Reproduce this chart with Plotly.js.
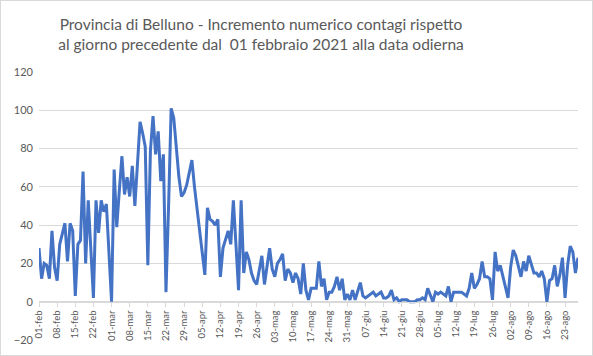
<!DOCTYPE html>
<html>
<head>
<meta charset="utf-8">
<script src="https://cdn.plot.ly/plotly-3.0.1.min.js"></script>
<style>
  html, body { margin: 0; padding: 0; background: #ffffff; }
  #wrap { position: relative; width: 593px; height: 356px; }
  #chart { width: 593px; height: 356px; }
  #frame { position: absolute; left: 0; top: 0; width: 591px; height: 354px; border: 1px solid #d9d9d9; pointer-events: none; }
</style>
</head>
<body>
<div id="wrap"><div id="chart"></div><div id="frame"></div></div>
<script>
// Daily increment of cases, Provincia di Belluno, 01 Feb 2021 - 28 Aug 2021
const startDate = '2021-02-01';
const febValues = [28,12,20,19,12,37,18,11,30,35,41,21,41,37,3,30,32,68,20,53,28,2,53,36,53,47,51,25];
const marValues = [0,69,39,58,76,56,65,55,71,50,72,94,88,81,19,79,97,77,89,63,77,5,50,101,96,79,65,55,57,61,67];
const aprValues = [74,60,48,37,26,14,49,43,42,40,43,13,28,33,37,30,53,30,6,53,15,26,22,15,11,9,17,24,9,18];
const mayValues = [28,17,13,20,22,25,11,17,15,10,15,12,4,20,6,1,7,7,7,21,8,12,1,5,5,8,13,6,12,1,4];
const junValues = [1,6,1,5,10,3,2,3,4,5,3,4,5,2,2,3,6,1,2,0,1,1,1,0,0,0,1,1,2,1];
const julValues = [7,3,0,5,4,5,4,3,8,0,5,5,5,5,4,3,7,15,7,9,12,21,13,13,12,1,26,16,19,13,7];
const augValues = [2,18,27,24,18,13,21,16,24,19,15,15,13,16,12,0,11,12,19,8,14,23,2,19,29,26,15,23];

const tickLabels = ['01-feb','08-feb','15-feb','22-feb','01-mar','08-mar','15-mar','22-mar','29-mar',
  '05-apr','12-apr','19-apr','26-apr','03-mag','10-mag','17-mag','24-mag','31-mag','07-giu','14-giu',
  '21-giu','28-giu','05-lug','12-lug','19-lug','26-lug','02-ago','09-ago','16-ago','23-ago'];

const values = [].concat(febValues, marValues, aprValues, mayValues, junValues, julValues, augValues);

function isoDay(offset) {
  const d = new Date(startDate + 'T00:00:00Z');
  d.setUTCDate(d.getUTCDate() + offset);
  return d.toISOString().slice(0, 10);
}
const dates = values.map((_, i) => isoDay(i));
const tickVals = tickLabels.map((_, i) => isoDay(i * 7));

const trace = {
  x: dates, y: values, type: 'scatter', mode: 'lines',
  line: { color: '#4472C4', width: 3 },
  hoverinfo: 'skip'
};

const layout = {
  width: 593, height: 356,
  margin: { l: 39, r: 15, t: 72, b: 16 },
  paper_bgcolor: '#ffffff', plot_bgcolor: '#ffffff',
  showlegend: false,
  font: { family: 'Lato, "Liberation Sans", sans-serif', color: '#595959', size: 11 },
  title: {
    text: 'Provincia di Belluno - Incremento numerico contagi rispetto<br>al giorno precedente dal  01 febbraio 2021 alla data odierna',
    font: { family: 'Lato, "Liberation Sans", sans-serif', size: 15.5, color: '#595959' },
    xref: 'container', x: 261 / 593, xanchor: 'center',
    yref: 'container', y: 1 - 30 / 356, yanchor: 'middle'
  },
  xaxis: {
    type: 'date',
    range: [dates[0], dates[dates.length - 1]],
    anchor: 'free', position: 20 / 140,
    showgrid: false, zeroline: false,
    showline: true, linecolor: '#d9d9d9', linewidth: 1,
    ticks: 'outside', ticklen: 4, tickcolor: '#d9d9d9',
    tickvals: tickVals, ticktext: tickLabels, tickangle: -90,
    tickfont: { size: 9.5, color: '#595959' }
  },
  yaxis: {
    range: [-20, 120], dtick: 20, tick0: 0,
    showgrid: true, gridcolor: '#d9d9d9', gridwidth: 1,
    zeroline: false, showline: false, ticks: '',
    ticklabelstandoff: 5,
    tickfont: { size: 11, color: '#595959' }
  }
};

Plotly.newPlot('chart', [trace], layout, { displayModeBar: false, staticPlot: true });
</script>
</body>
</html>
